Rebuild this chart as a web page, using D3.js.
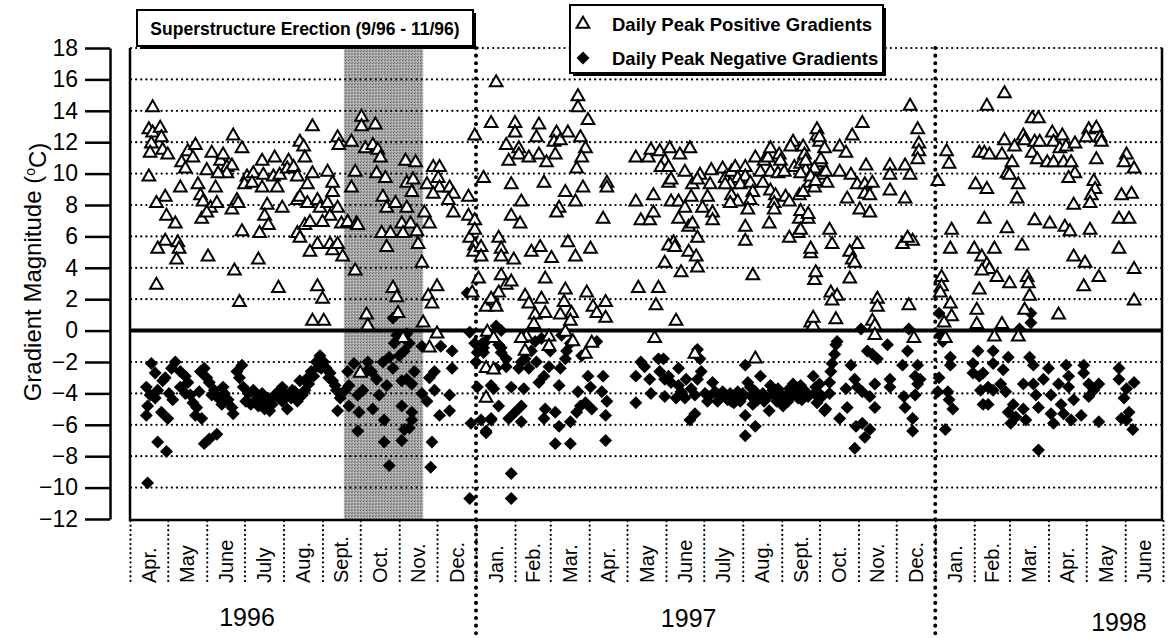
<!DOCTYPE html>
<html>
<head>
<meta charset="utf-8">
<script src="https://cdn.jsdelivr.net/npm/d3@7"></script>
<style>
  body { margin: 0; background: #fff; }
  svg { display: block; }
  text { font-family: Arial, "Liberation Sans", sans-serif; fill: #000; }
</style>
</head>
<body>
<script>
// day = days since 1 April 1996, value = gradient (deg C)
var pos1996 = [
  [18,14.2],[15,12.8],[18,12.6],[24,12.9],[25,12.3],[17,11.9],[16,11.3],[26,11.5],[30,11.2],[15,9.8],
  [28,8.5],[21,8.1],[29,7.3],[36,6.8],[28,5.7],[22,5.2],[38,5.6],[39,5.2],[37,4.5],[21,2.9],
  [41,10.7],[46,11.4],[52,11.8],[44,10.3],[50,11.0],[40,9.1],[54,9.3],[56,8.6],[58,8.2],[64,7.8],
  [57,7.1],[61,7.5],[69,8.1],[68,9.1],[61,10.2],[65,11.3],[72,10.8],[74,11.2],[77,10.4],[81,10.5],
  [77,10.0],[70,10.0],[82,12.4],[89,11.6],[81,7.7],[85,8.3],[86,8.1],[89,6.3],[83,3.8],[87,1.8],[62,4.7],
  [93,9.8],[91,9.3],[98,10.0],[105,10.8],[97,9.4],[106,9.9],[105,9.1],[114,9.8],[115,11.0],[119,9.9],
  [117,9.1],[109,8.0],[107,7.3],[110,6.7],[103,6.2],[102,4.5],[121,7.8],[126,10.8],[125,10.3],[130,10.4],
  [133,9.8],[135,12.0],[138,11.7],[139,11.0],[145,13.0],[145,10.0],[141,9.3],[133,8.3],[135,8.5],[141,8.1],
  [149,8.3],[151,7.8],[157,8.1],[159,7.3],[153,6.9],[161,8.8],[157,10.1],[161,9.4],[165,7.8],[133,6.2],
  [135,5.9],[139,6.7],[143,6.9],[149,5.5],[143,5.0],[159,5.5],[161,5.1],[165,5.5],[168,6.8],[169,4.7],
  [165,12.3],[166,11.8],[118,2.7],[149,2.8],[153,2.0],[145,0.6],[154,0.6],
  [173,6.9],[180,6.8],[181,6.7],[176,9.1],[179,10.1],[176,12.0],[184,13.6],[184,13.0],[195,13.1],[187,11.6],
  [193,11.8],[197,11.5],[199,11.0],[196,10.0],[203,9.7],[201,8.5],[204,7.8],[211,8.1],[200,6.2],[207,6.2],
  [204,5.3],[219,10.8],[227,10.7],[220,9.4],[225,9.6],[224,8.8],[220,7.8],[216,6.8],[223,6.8],[217,6.2],
  [228,6.3],[229,5.5],[232,4.3],[179,3.8],[209,2.7],[212,2.1],[234,7.5],[238,6.8],[241,10.4],[246,10.4],
  [245,9.7],[246,9.1],[236,9.3],[241,8.7],[254,9.1],[257,8.7],[253,8.3],[257,7.5],[269,8.5],[269,7.3],
  [274,7.0],[270,5.9],[274,6.4],[274,5.4],[273,5.0],[244,2.8],[237,2.2],[240,1.7],[188,1.0],[189,0.3],
  [213,1.1],[233,0.5],[244,-0.2],[238,-1.1],[217,-0.5],[183,-2.7],[272,2.4],[274,12.4]
];

var pos1997a = [
  [279,5.3],[279,4.7],[277,3.3],[281,9.7],[287,13.2],[291,15.8],[283,1.5],[289,1.9],[283,-2.4],[283,-4.3],[284,-0.1],
  [306,13.2],[306,12.6],[325,13.1],[323,12.3],[299,11.8],[309,11.6],[309,11.2],[301,10.8],[317,11.0],
  [325,11.2],[331,10.7],[339,12.6],[337,12.0],[342,12.1],[348,12.6],[338,11.2],[356,14.9],[356,14.2],[364,13.4],
  [358,12.3],[362,11.6],[359,11.0],[355,10.3],[303,9.3],[329,9.4],[346,8.8],[360,9.1],[379,9.4],[379,9.1],
  [311,8.2],[341,7.8],[339,7.5],[354,8.2],[303,7.3],[310,6.8],[376,7.1],[293,5.9],[295,5.2],[295,4.7],
  [305,4.5],[319,5.0],[326,5.3],[335,4.6],[348,5.6],[354,4.7],[366,5.2],[295,3.5],[299,2.9],[303,3.1],
  [293,2.4],[287,2.0],[291,1.5],[314,2.2],[317,1.7],[327,2.0],[322,1.0],[330,1.1],[330,3.3],[346,2.6],
  [345,1.8],[351,1.1],[342,1.0],[363,2.4],[368,1.5],[371,1.1],[378,1.8],[378,0.8],[321,0.4],[350,0.6],
  [346,-0.1],[352,-0.7],[333,-0.4],[315,-0.4],[311,-0.5],[289,-0.5],[314,-1.3],[333,-1.0],[362,-1.5],[367,-0.8],[289,-2.5]
];

var pos1997b = [
  [402,11.0],[412,11.0],[414,11.5],[421,11.4],[429,11.6],[437,11.2],[445,11.6],[425,10.8],[422,10.4],[428,10.4],
  [402,8.2],[416,8.6],[406,7.0],[413,7.0],[416,7.5],[428,9.4],[430,9.6],[441,10.1],[430,8.2],[436,8.2],
  [441,7.8],[436,7.1],[444,6.6],[447,6.8],[451,5.9],[432,5.6],[428,5.4],[433,5.3],[444,5.0],[450,4.7],
  [451,4.0],[425,4.3],[438,3.7],[404,2.7],[420,2.7],[418,1.6],[434,0.6],[417,-0.5],[449,-1.5],
  [447,9.3],[453,9.9],[446,8.5],[451,9.6],[462,10.2],[461,9.3],[459,8.5],[455,7.8],[463,7.5],[463,7.0],
  [471,10.3],[473,9.7],[478,10.1],[481,10.4],[483,9.7],[477,9.3],[473,9.3],[478,8.6],[483,8.2],[477,8.1],
  [489,10.4],[489,9.8],[485,9.3],[493,9.4],[495,8.8],[493,8.3],[491,7.7],[489,6.6],[489,5.7],[497,11.0],
  [501,10.1],[503,9.4],[504,10.8],[507,11.0],[509,11.6],[509,10.1],[516,11.2],[517,10.8],[515,10.0],[509,8.9],
  [513,8.6],[512,8.1],[512,7.7],[508,6.8],[520,10.1],[521,8.5],[524,8.2],[527,12.0],[525,11.7],[535,11.7],
  [528,10.4],[532,8.6],[532,7.1],[539,7.1],[531,6.2],[524,5.9],[533,10.6],[537,10.2],[540,9.4],[535,8.8],
  [546,12.4],[548,12.0],[549,10.7],[550,9.9],[544,9.1],[541,4.9],[544,3.2],[541,0.5],[495,3.5],[497,-1.8],[543,0.3],
  [620,14.3],[546,12.8],[548,12.3],[536,11.2],[552,11.6],[564,11.7],[569,11.3],[582,13.2],[574,12.4],[549,10.9],
  [537,10.8],[544,10.3],[553,10.1],[533,10.0],[541,9.8],[554,9.4],[545,9.5],[564,10.1],[573,9.9],[585,10.5],
  [578,9.3],[584,9.3],[590,9.4],[584,8.7],[588,8.6],[570,8.4],[580,7.7],[588,7.5],[604,10.5],[604,9.9],
  [604,8.9],[616,10.5],[620,9.9],[616,8.4],[626,12.8],[627,11.9],[627,11.4],[626,10.9],[533,7.6],[539,7.4],
  [533,6.4],[556,6.4],[558,5.5],[541,5.2],[578,5.5],[572,5.0],[574,4.5],[576,4.3],[614,5.5],[622,5.7],
  [618,5.9],[545,3.7],[572,3.3],[557,2.4],[562,2.2],[558,1.9],[594,2.0],[594,1.5],[619,1.6],[543,0.8],
  [561,0.7],[590,0.6],[592,0.3],[592,-0.3],[623,-0.5]
];

var pos1998 = [
  [642,9.5],[649,11.4],[651,10.6],[681,14.3],[695,15.1],[672,9.3],[681,9.0],[675,11.3],[679,11.3],[683,11.2],
  [693,11.2],[695,12.1],[703,11.7],[701,10.7],[697,10.0],[699,9.9],[706,9.3],[705,8.4],[710,12.4],[711,12.1],
  [717,13.5],[722,13.5],[717,11.3],[721,10.9],[719,12.0],[723,12.0],[733,12.6],[734,12.0],[739,11.6],[741,12.4],
  [744,11.7],[751,11.9],[729,10.7],[734,10.7],[742,10.7],[748,10.7],[751,10.0],[746,9.7],[762,12.8],[768,12.9],
  [760,12.3],[771,12.3],[772,12.0],[768,10.9],[766,9.5],[767,9.0],[764,8.6],[763,8.1],[750,8.0],[792,11.2],
  [790,10.7],[798,10.3],[796,8.7],[788,8.6],[786,7.1],[794,7.1],[786,5.2],[798,3.9],[798,1.9],[679,7.1],
  [697,6.5],[719,7.0],[731,6.8],[743,6.6],[747,6.3],[763,6.4],[653,6.4],[652,5.2],[671,5.2],[677,4.7],
  [687,5.2],[681,4.2],[683,3.9],[677,3.8],[689,3.4],[699,3.0],[709,5.4],[713,3.4],[714,3.0],[715,2.2],
  [711,1.3],[675,2.6],[673,1.3],[750,4.7],[759,4.3],[758,2.8],[770,3.4],[738,1.0],[645,3.4],[645,2.8],
  [644,2.4],[652,1.7],[653,0.9],[647,0.5],[648,-0.5],[673,0.4],[693,0.4],[687,-0.4],[706,-0.4]
];

var neg1996 = [
  [14,-9.7],[22,-7.1],[29,-7.7],[17,-2.1],[20,-2.7],[13,-3.6],[16,-4.1],[14,-4.8],[13,-5.4],[20,-4.3],
  [22,-3.8],[26,-3.2],[25,-5.2],[30,-5.6],[28,-3.0],[33,-2.4],[36,-2.0],[40,-2.6],[44,-2.9],[40,-3.6],
  [44,-4.0],[48,-4.1],[50,-4.6],[53,-4.9],[52,-5.4],[57,-5.6],[56,-2.6],[59,-2.4],[61,-3.0],[63,-3.3],
  [67,-3.8],[70,-4.3],[73,-4.7],[75,-4.0],[74,-3.6],[81,-4.9],[82,-5.3],[59,-7.2],[63,-6.9],[69,-6.6],
  [85,-2.6],[89,-2.2],[87,-3.0],[90,-3.6],[94,-4.0],[98,-3.8],[101,-4.3],[102,-4.8],[105,-4.0],[109,-4.3],
  [113,-4.7],[111,-5.1],[115,-4.1],[119,-3.8],[121,-3.6],[121,-4.5],[125,-5.0],[128,-4.3],[129,-3.8],[133,-4.5],
  [135,-3.2],[139,-3.8],[140,-3.1],[144,-2.6],[148,-2.0],[151,-1.6],[152,-2.4],[156,-2.4],[159,-2.7],[161,-3.2],
  [164,-3.8],[167,-4.3],[165,-5.1],[171,-3.8],[174,-3.5],[173,-2.6],[178,-2.1],[174,-4.8],[181,-4.1],[182,-5.2],
  [185,-3.8],[188,-2.6],[189,-2.0],[192,-2.6],[196,-3.1],[193,-5.0],[181,-6.4],[202,-5.7],[202,-7.1],[206,-8.6],
  [198,-4.1],[204,-3.5],[201,-2.0],[206,-1.7],[209,-2.4],[214,-1.6],[210,-0.8],[212,-0.3],[209,0.8],[218,-1.3],
  [222,-0.8],[220,-0.2],[216,-3.2],[220,-3.1],[224,-3.4],[226,-2.6],[216,-4.8],[224,-5.2],[224,-5.7],[218,-6.3],
  [216,-7.0],[222,-6.2],[232,-1.0],[232,-4.0],[236,-4.5],[238,-3.0],[242,-2.6],[240,-7.1],[239,-8.7],[242,-3.8],
  [246,-5.4],[254,-4.1],[254,-5.1],[256,-1.3],[256,-2.4],[247,-1.0],[268,2.4],[270,-0.1],[274,-0.8],[271,-5.9],
  [270,-10.7],
  [31,-4.0],[34,-4.4],[46,-3.3],[55,-3.9],[65,-4.1],[78,-4.4],[92,-4.5],[96,-4.7],[104,-4.6],[107,-5.0],
  [117,-4.2],[123,-4.0],[131,-3.9],[137,-4.1],[142,-3.4],[146,-2.9],[150,-2.3],[154,-2.0],[158,-3.0],[163,-3.5]
];

var neg1997 = [
  [276,-1.4],[275,-2.0],[276,-3.6],[279,-5.7],[283,-6.5],[287,-5.7],[287,-3.5],[281,-1.1],[284,-0.6],[280,-0.8],
  [281,-1.4],[291,0.3],[295,0.0],[295,-1.1],[299,-1.8],[291,-2.4],[299,-2.3],[303,-3.6],[289,-3.7],[293,-4.8],
  [287,-5.6],[283,-6.4],[301,-5.6],[306,-5.2],[311,-4.8],[313,-3.7],[311,-5.8],[309,-2.4],[317,-2.4],[314,-1.8],
  [319,-1.3],[322,-0.7],[327,-0.5],[323,-2.0],[325,-3.3],[329,-2.9],[333,-2.3],[330,-5.0],[329,-5.6],[338,-5.2],
  [341,-6.1],[338,-7.2],[350,-7.2],[350,-5.8],[341,-3.5],[342,-2.4],[346,-1.8],[347,-1.3],[350,-0.8],[343,-0.3],
  [356,-3.9],[358,-4.8],[355,-5.2],[362,-4.6],[364,-2.9],[366,-3.6],[371,-0.7],[376,-2.9],[375,-3.9],[379,-4.5],
  [378,-5.4],[378,-7.0],[367,-5.0],[359,-1.6],[303,-9.1],[303,-10.7],[311,-2.0],[334,-1.3],[295,-1.4],[293,-0.9],
  [402,-4.6],[402,-2.9],[406,-2.0],[409,-2.3],[413,-3.1],[414,-4.0],[420,-1.8],[424,-1.8],[421,-2.6],[425,-3.1],
  [428,-2.9],[425,-4.2],[430,-3.3],[436,-2.4],[436,-3.5],[438,-3.9],[442,-3.1],[434,-4.3],[441,-4.3],[446,-3.7],
  [449,-4.1],[451,-1.2],[453,-1.8],[454,-2.6],[451,-3.1],[457,-4.0],[459,-4.5],[463,-3.3],[465,-3.9],[467,-4.5],
  [445,-5.7],[449,-5.3],[471,-3.9],[473,-4.2],[477,-4.0],[478,-4.5],[481,-4.2],[483,-3.9],[485,-4.5],[487,-4.0],
  [489,-2.2],[491,-3.3],[493,-3.6],[501,-2.9],[497,-3.9],[495,-4.7],[489,-5.4],[497,-6.1],[489,-6.7],[503,-4.0],
  [504,-4.5],[508,-5.1],[509,-3.5],[512,-4.1],[515,-3.7],[517,-4.0],[519,-4.8],[521,-4.2],[524,-3.7],[527,-3.4],
  [528,-4.0],[531,-4.3],[533,-3.5],[536,-3.8],[539,-4.2],[543,-2.9],[544,-4.0],[546,-4.6],[550,-4.2],[552,-5.1],
  [533,-4.2],[545,-3.6],[548,-3.4],[549,-4.1],[553,-5.0],[556,-4.0],[556,-3.3],[557,-2.6],[558,-2.1],[560,-1.5],
  [561,-0.9],[562,-0.7],[564,-5.6],[570,-4.9],[569,-3.7],[573,-2.2],[576,-3.1],[578,-3.6],[582,-3.9],[577,-6.1],
  [582,-5.9],[588,-6.3],[584,-6.8],[576,-7.5],[588,-4.2],[592,-4.9],[592,-3.4],[586,-1.3],[590,-1.5],[594,-1.8],
  [581,0.1],[602,-0.9],[604,-3.1],[604,-3.6],[615,-4.2],[614,-2.2],[618,-1.3],[619,0.1],[616,-4.9],[622,-5.6],
  [622,-6.4],[626,-2.2],[624,-2.9],[626,-3.4],[628,-3.1],[624,-4.1],
  [460,-4.2],[468,-4.1],[475,-4.4],[480,-4.6],[486,-4.3],[494,-4.2],[499,-4.4],[506,-4.3],[511,-3.8],[514,-4.5],
  [518,-4.2],[523,-4.5],[526,-4.1],[530,-3.8],[534,-4.4],[538,-4.0]
];

var neg1998 = [
  [643,1.1],[644,-0.3],[646,-0.7],[643,-3.0],[642,-3.9],[650,-3.9],[651,-4.4],[648,-6.3],[654,-5.0],[652,-1.7],
  [652,-2.2],[674,-1.3],[670,-2.1],[670,-2.7],[675,-2.9],[676,-3.8],[678,-4.7],[682,-4.7],[678,-2.7],[682,-3.6],
  [686,-1.3],[686,-2.1],[686,-3.8],[694,-2.5],[692,-3.4],[698,-1.7],[696,-3.9],[698,-5.2],[700,-5.9],[702,-4.7],
  [704,-5.5],[707,0.1],[710,-3.4],[710,-5.0],[712,-5.7],[715,-1.7],[718,-2.2],[718,-3.4],[720,-4.1],[722,-4.9],
  [716,1.1],[716,0.5],[722,-7.6],[726,-3.1],[730,-2.4],[732,-4.1],[732,-5.3],[734,-5.9],[738,-3.4],[740,-4.7],
  [742,-5.3],[744,-2.2],[746,-2.9],[746,-3.6],[750,-4.4],[748,-5.7],[756,-5.4],[758,-2.2],[758,-2.7],[762,-3.4],
  [762,-4.2],[766,-3.8],[770,-3.4],[770,-5.8],[786,-2.4],[786,-3.1],[792,-3.7],[790,-4.3],[798,-3.3],[788,-5.6],
  [794,-5.2],[797,-6.3],[792,-5.7]
];

var positive = pos1996.concat(pos1997a, pos1997b, pos1998);
var negative = neg1996.concat(neg1997, neg1998);

var yTicks = [18, 16, 14, 12, 10, 8, 6, 4, 2, 0, -2, -4, -6, -8, -10, -12];
var gridValues = [18, 16, 14, 12, 10, 8, 6, 4, 2, -2, -4, -6, -8, -10];
var monthNames = ["Apr.", "May", "June", "July", "Aug.", "Sept.", "Oct.", "Nov.", "Dec.",
                  "Jan.", "Feb.", "Mar.", "Apr.", "May", "June", "July", "Aug.", "Sept.", "Oct.", "Nov.", "Dec.",
                  "Jan.", "Feb.", "Mar.", "Apr.", "May", "June"];
var yearNames = ["1996", "1997", "1998"];
var yearLabelDates = [new Date(1996, 6, 3), new Date(1997, 5, 19), new Date(1998, 4, 27)];
var yearStarts = [new Date(1997, 0, 1), new Date(1998, 0, 1)];
var erection = [new Date(1996, 8, 18), new Date(1996, 10, 20)];

var width = 1169, height = 638;
var start = new Date(1996, 3, 1), end = new Date(1998, 6, 1);

var svg = d3.select("body").append("svg")
            .attr("width", width)
            .attr("height", height);

// stippled grey for the erection period
var pat = svg.append("defs").append("pattern")
             .attr("id", "stipple")
             .attr("patternUnits", "userSpaceOnUse")
             .attr("width", 3).attr("height", 3);
pat.append("rect").attr("width", 3).attr("height", 3).attr("fill", "#a6a6a6");
pat.append("rect").attr("width", 1).attr("height", 1).attr("fill", "#6e6e6e");
pat.append("rect").attr("x", 2).attr("y", 1).attr("width", 1).attr("height", 1).attr("fill", "#d0d0d0");
pat.append("rect").attr("x", 1).attr("y", 2).attr("width", 1).attr("height", 1).attr("fill", "#808080");

var x = d3.scaleTime().domain([start, end]).range([130, 1163]);
var y = d3.scaleLinear().domain([-12, 18]).range([519, 48]);

function px(d) { return x(d3.timeDay.offset(start, d[0])); }

svg.append("rect")
   .attr("x", x(erection[0]))
   .attr("y", y(18))
   .attr("width", x(erection[1]) - x(erection[0]))
   .attr("height", y(-12) - y(18))
   .attr("fill", "url(#stipple)");

// dotted gridlines
svg.append("g").selectAll("line")
   .data(gridValues)
   .join("line")
   .attr("x1", 131).attr("x2", 1162)
   .attr("y1", function(d) { return y(d); })
   .attr("y2", function(d) { return y(d); })
   .attr("stroke", "#000")
   .attr("stroke-width", 2.2)
   .attr("stroke-linecap", "round")
   .attr("stroke-dasharray", "0.1 5");

// month separators under the plot
var months = d3.timeMonth.range(start, d3.timeDay.offset(end, 1));
svg.append("g")
   .attr("transform", "translate(0,521)")
   .call(d3.axisBottom(x).tickValues(months).tickSize(62).tickSizeOuter(0).tickFormat(""))
   .call(function(g) {
     g.select(".domain").remove();
     g.selectAll(".tick line")
      .attr("stroke-width", 2.2)
      .attr("stroke-linecap", "round")
      .attr("stroke-dasharray", "0.1 4.5");
   });

// month labels, rotated
svg.append("g").selectAll("text")
   .data(monthNames)
   .join("text")
   .attr("transform", function(d, i) {
     var mid = (x(months[i]) + x(months[i + 1])) / 2;
     return "translate(" + mid + ",583) rotate(-90)";
   })
   .attr("dy", "0.35em")
   .style("font-size", "20px")
   .text(function(d) { return d; });

// year labels
var yearBase = [626, 627, 631];
svg.append("g").selectAll("text")
   .data(yearNames)
   .join("text")
   .attr("x", function(d, i) { return x(yearLabelDates[i]); })
   .attr("y", function(d, i) { return yearBase[i]; })
   .attr("text-anchor", "middle")
   .style("font-size", "25px")
   .text(function(d) { return d; });

// heavy dotted year boundaries
svg.append("g").selectAll("line")
   .data(yearStarts)
   .join("line")
   .attr("x1", function(d) { return x(d); })
   .attr("x2", function(d) { return x(d); })
   .attr("y1", y(18)).attr("y2", height)
   .attr("stroke", "#000")
   .attr("stroke-width", 4)
   .attr("stroke-linecap", "round")
   .attr("stroke-dasharray", "0.1 7.5");

// zero line
svg.append("line")
   .attr("x1", 130).attr("x2", 1162)
   .attr("y1", y(0)).attr("y2", y(0))
   .attr("stroke", "#000")
   .attr("stroke-width", 4);

// plot frame (left, bottom, right)
svg.append("path")
   .attr("d", "M130," + y(18) + "V520H1162V" + y(18))
   .attr("fill", "none")
   .attr("stroke", "#000")
   .attr("stroke-width", 2.5);

// y axis, detached from the frame
svg.append("g")
   .attr("transform", "translate(110,0)")
   .call(d3.axisLeft(y).tickValues(yTicks).tickSize(25).tickSizeOuter(0).tickPadding(7))
   .call(function(g) {
     g.select(".domain").attr("stroke-width", 2.5);
     g.selectAll(".tick line").attr("stroke-width", 2.5);
     g.selectAll(".tick text")
      .style("font-size", "23px")
      .style("font-family", "Arial, 'Liberation Sans', sans-serif")
      .attr("fill", "#000");
   });

// y axis title
var ylab = svg.append("text")
              .attr("transform", "translate(41,272) rotate(-90)")
              .attr("text-anchor", "middle")
              .style("font-size", "24px");
ylab.append("tspan").text("Gradient Magnitude (");
ylab.append("tspan").attr("dy", "-0.45em").style("font-size", "14px").text("o");
ylab.append("tspan").attr("dy", "0.45em").text("C)");

// symbols
var tri = d3.symbol().type(d3.symbolTriangle).size(70);
var dia = d3.symbol().type(d3.symbolSquare).size(84);

svg.append("g").selectAll("path")
   .data(negative)
   .join("path")
   .attr("d", dia)
   .attr("transform", function(d) { return "translate(" + px(d) + "," + y(d[1]) + ") rotate(45)"; })
   .attr("fill", "#000");

svg.append("g").selectAll("path")
   .data(positive)
   .join("path")
   .attr("d", tri)
   .attr("transform", function(d) { return "translate(" + px(d) + "," + y(d[1]) + ")"; })
   .attr("fill", "#fff")
   .attr("stroke", "#000")
   .attr("stroke-width", 2);

// boxes with a small drop shadow
function shadowBox(x0, y0, w, h) {
  svg.append("rect").attr("x", x0 + 3).attr("y", y0 + 3).attr("width", w).attr("height", h).attr("fill", "#000");
  svg.append("rect").attr("x", x0).attr("y", y0).attr("width", w).attr("height", h)
     .attr("fill", "#fff").attr("stroke", "#000").attr("stroke-width", 2);
}

shadowBox(137, 10, 336, 36);
svg.append("text")
   .attr("x", 305).attr("y", 35)
   .attr("text-anchor", "middle")
   .style("font-size", "17.5px")
   .style("font-weight", "bold")
   .text("Superstructure Erection (9/96 - 11/96)");

shadowBox(570, 5, 313, 68);
var legend = svg.append("g");
legend.append("path").attr("d", tri).attr("transform", "translate(583,24)")
      .attr("fill", "#fff").attr("stroke", "#000").attr("stroke-width", 2);
legend.append("path").attr("d", dia).attr("transform", "translate(583,58) rotate(45)")
      .attr("fill", "#000");
legend.append("text").attr("x", 612).attr("y", 31)
      .style("font-size", "18.5px").style("font-weight", "bold")
      .text("Daily Peak Positive Gradients");
legend.append("text").attr("x", 612).attr("y", 65)
      .style("font-size", "18.5px").style("font-weight", "bold")
      .text("Daily Peak Negative Gradients");
</script>
</body>
</html>
